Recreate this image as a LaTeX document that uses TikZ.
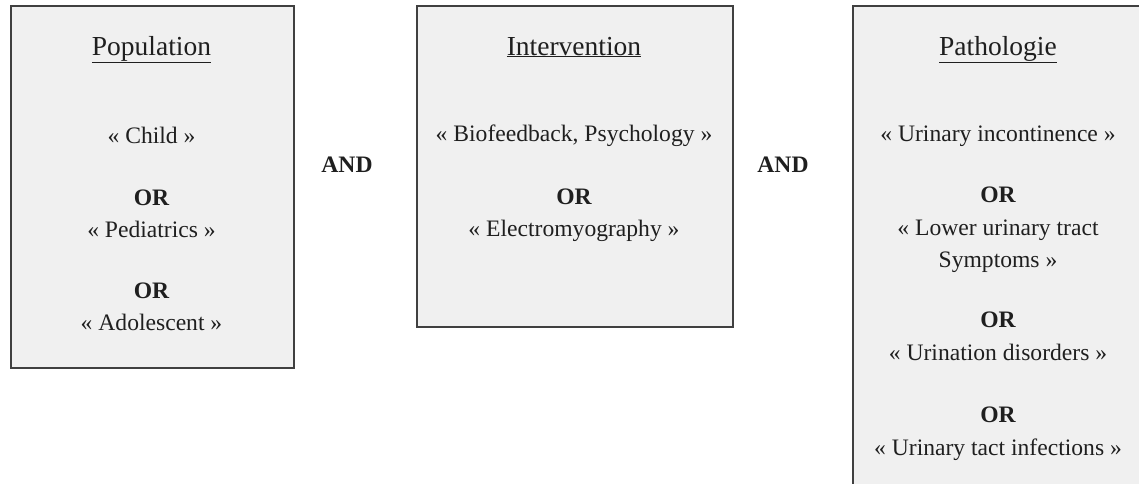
\documentclass[tikz,border=0pt]{standalone}
\usepackage{fontspec}
\setmainfont{Liberation Serif}
\usepackage{tikz}
\usetikzlibrary{positioning}

\tikzset{
  box/.style={draw=black!75, line width=1.6pt, fill=black!6, anchor=north west, inner sep=0pt},
  term/.style={font=\fontsize{23.6}{30}\selectfont, text=black!88, inner sep=0pt, anchor=base},
  title/.style={term, font=\fontsize{27.5}{30}\selectfont},
  oper/.style={term, font=\fontsize{23.6}{30}\selectfont\bfseries},
}

\begin{document}
\begin{tikzpicture}[x=1pt, y=-1pt]
\useasboundingbox (0,0) rectangle (1139,483);

\node[box, minimum width=283pt, minimum height=362pt] (pop) at (10,5) {};
\node[box, minimum width=316pt, minimum height=321pt] (int) at (416,5) {};
\node[box, minimum width=300pt, minimum height=490pt] (pat) at (852,5) {};

\node[title] (popt) at (151.5,55) {\underline{Population}};
\node[term] (child) at (151.5,143) {« Child »};
\node[oper] (or1) at (151.5,205) {OR};
\node[term] (pedi) at (151.5,237) {« Pediatrics »};
\node[oper] (or2) at (151.5,298) {OR};
\node[term] (ado) at (151.5,330) {« Adolescent »};

\node[title] (intt) at (574,55) {\underline{Intervention}};
\node[term] (bio) at (574,141) {« Biofeedback, Psychology »};
\node[oper] (or3) at (574,204) {OR};
\node[term] (emg) at (574,236) {« Electromyography »};

\node[title] (patt) at (998,55) {\underline{Pathologie}};
\node[term] (ui) at (998,141) {« Urinary incontinence »};
\node[oper] (or4) at (998,202) {OR};
\node[term] (luts) at (998,235) {« Lower urinary tract};
\node[term] (symp) at (998,267) {Symptoms »};
\node[oper] (or5) at (998,327) {OR};
\node[term] (ud) at (998,360) {« Urination disorders »};
\node[oper] (or6) at (998,422) {OR};
\node[term] (uti) at (998,455) {« Urinary tact infections »};

\node[oper] (and1) at (347,172) {AND};
\node[oper] (and2) at (783,172) {AND};
\end{tikzpicture}
\end{document}
